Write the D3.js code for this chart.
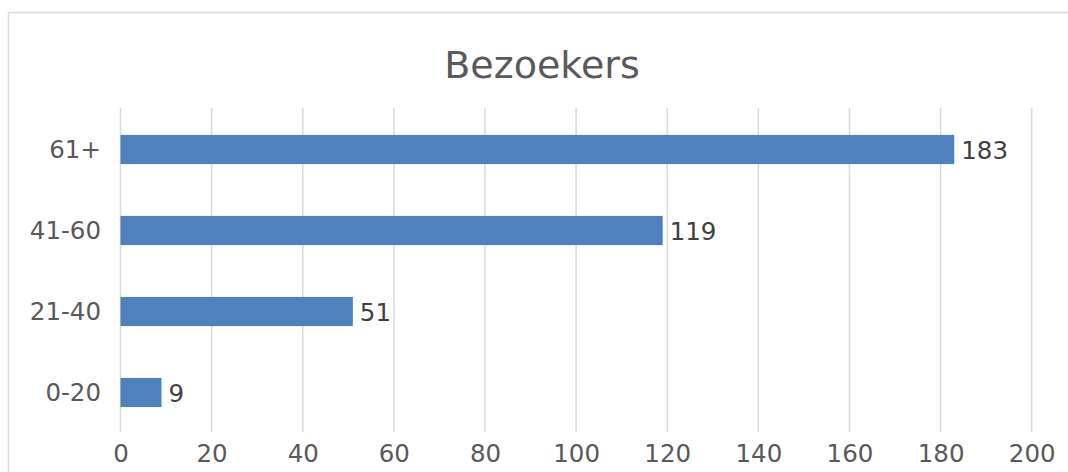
<!DOCTYPE html>
<html>
<head>
<meta charset="utf-8">
<script src="https://cdn.jsdelivr.net/npm/d3@7"></script>
<style>
  body { margin: 0; background: #fff; }
  svg text { font-family: "DejaVu Sans", sans-serif; }
</style>
</head>
<body>
<svg id="chart" width="1068" height="472"></svg>
<script>
// leeftijdsgroepen en aantallen bezoekers
var categories = ["61+", "41-60", "21-40", "0-20"];
var values = [183, 119, 51, 9];
var xTicks = [0, 20, 40, 60, 80, 100, 120, 140, 160, 180, 200];
var title = "Bezoekers";

var svg = d3.select("#chart");

// outer chart border (cut off right and bottom)
svg.append("rect")
  .attr("x", 8.5).attr("y", 12.5)
  .attr("width", 1100).attr("height", 500)
  .attr("fill", "#fff")
  .attr("stroke", "#d9d9d9")
  .attr("stroke-width", 1.5);

var x = d3.scaleLinear().domain([0, 200]).range([120.5, 1031.7]);
var y = d3.scaleBand().domain(categories).range([109, 433]).paddingInner(0.64).paddingOuter(0.32);

// gridlines
svg.append("g").selectAll("line")
  .data(xTicks)
  .enter().append("line")
  .attr("x1", function(d) { return x(d); })
  .attr("x2", function(d) { return x(d); })
  .attr("y1", 108)
  .attr("y2", 432)
  .attr("stroke", "#d9d9d9")
  .attr("stroke-width", 1.5);

// x axis labels
var xAxis = d3.axisBottom(x).tickValues(xTicks).tickSize(0).tickPadding(0);
var gx = svg.append("g").attr("transform", "translate(0,445)").call(xAxis);
gx.select(".domain").remove();
gx.selectAll("text")
  .attr("dy", "0.71em")
  .attr("fill", "#595959")
  .style("font-size", "24.5px");

// category labels
var yAxis = d3.axisLeft(y).tickSize(0).tickPadding(0);
var gy = svg.append("g").attr("transform", "translate(101,1)").call(yAxis);
gy.select(".domain").remove();
gy.selectAll("text")
  .attr("fill", "#595959")
  .style("font-size", "24.5px");

// bars
svg.append("g").selectAll("rect")
  .data(values)
  .enter().append("rect")
  .attr("x", x(0))
  .attr("y", function(d, i) { return y(categories[i]); })
  .attr("width", function(d) { return x(d) - x(0); })
  .attr("height", y.bandwidth())
  .attr("fill", "#4f81bd");

// value labels
svg.append("g").selectAll("text")
  .data(values)
  .enter().append("text")
  .attr("x", function(d) { return x(d) + 7; })
  .attr("y", function(d, i) { return y(categories[i]) + y.bandwidth() / 2 + 1; })
  .attr("dy", "0.35em")
  .attr("fill", "#404040")
  .style("font-size", "24.5px")
  .text(function(d) { return d; });

// title
svg.append("text")
  .attr("x", 542)
  .attr("y", 78)
  .attr("text-anchor", "middle")
  .attr("fill", "#595959")
  .style("font-size", "38px")
  .text(title);
</script>
</body>
</html>
